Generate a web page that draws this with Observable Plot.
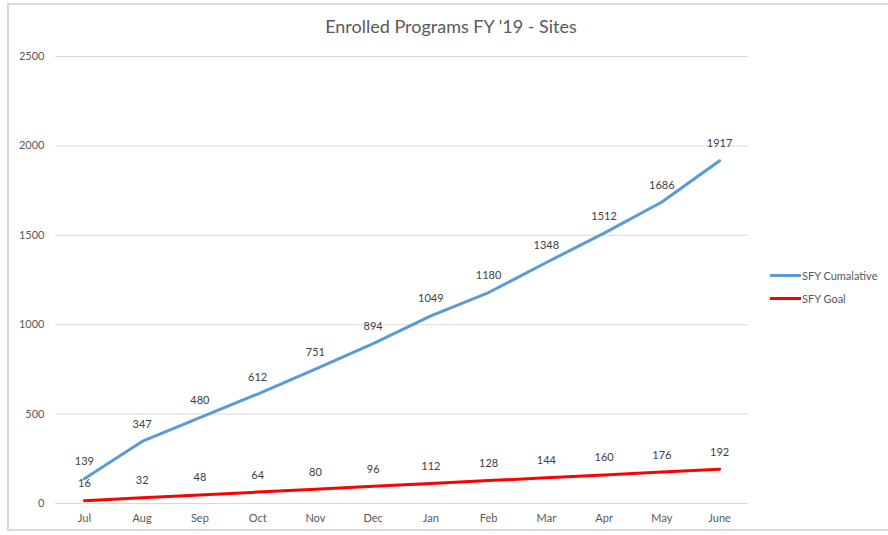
<!DOCTYPE html>
<html>
<head>
<meta charset="utf-8">
<script src="https://cdn.jsdelivr.net/npm/d3@7"></script>
<script src="https://cdn.jsdelivr.net/npm/@observablehq/plot@0.6"></script>
<style>
  html, body { margin: 0; padding: 0; background: #fff; }
  #wrap { position: relative; width: 888px; height: 535px; overflow: hidden; font-family: Lato, "Open Sans", sans-serif; }
  #frame { position: absolute; left: 7px; top: 3px; width: 900px; height: 528px; border: 2px solid #d9d9d9; box-sizing: border-box; }
  #title { position: absolute; left: 0; width: 902px; top: 15px; text-align: center; font-size: 18px; color: #595959; }
  .leg { position: absolute; left: 770px; font-size: 11px; color: #595959; display: flex; align-items: center; }
  .leg span.sw { display: inline-block; width: 31px; height: 3px; margin-right: 1px; }
  #chart { position: absolute; left: 0; top: 0; }
</style>
</head>
<body>
<div id="wrap">
  <div id="frame"></div>
  <div id="chart"></div>
  <div id="title">Enrolled Programs FY '19 - Sites</div>
  <div class="leg" style="top:269px"><span class="sw" style="background:#5B9BD5"></span>SFY Cumalative</div>
  <div class="leg" style="top:292px"><span class="sw" style="background:#FF0000"></span>SFY Goal</div>
</div>
<script>
const months = ["Jul","Aug","Sep","Oct","Nov","Dec","Jan","Feb","Mar","Apr","May","June"];
const cumulative = [139,347,480,612,751,894,1049,1180,1348,1512,1686,1917];
const goal = [16,32,48,64,80,96,112,128,144,160,176,192];
const yTicks = [0,500,1000,1500,2000,2500];

const cumData = months.map((m,i) => ({month: m, value: cumulative[i]}));
const goalData = months.map((m,i) => ({month: m, value: goal[i]}));

const chart = Plot.plot({
  width: 888,
  height: 535,
  marginLeft: 55,
  marginRight: 140,
  marginTop: 56,
  marginBottom: 32,
  style: {fontFamily: "Lato, 'Open Sans', sans-serif", fontSize: "11px", color: "#595959", background: "transparent"},
  x: {type: "point", domain: months, padding: 0.5, round: false, label: null},
  y: {domain: [0, 2500], ticks: yTicks, label: null},
  marks: [
    Plot.ruleY(yTicks, {stroke: "#d9d9d9", strokeWidth: 1}),
    Plot.axisY({ticks: yTicks, tickFormat: d => String(d), tickSize: 0, tickPadding: 11, fontSize: 11, fill: "#595959", label: null}),
    Plot.axisX({tickSize: 0, tickPadding: 11, fontSize: 11, fill: "#595959", label: null}),
    Plot.line(goalData, {x: "month", y: "value", stroke: "#FF0000", strokeWidth: 3}),
    Plot.line(cumData, {x: "month", y: "value", stroke: "#5B9BD5", strokeWidth: 3}),
    Plot.text(cumData, {x: "month", y: "value", text: d => String(d.value), dy: -17, fill: "#404040", fontSize: 11}),
    Plot.text(goalData, {x: "month", y: "value", text: d => String(d.value), dy: -17, fill: "#404040", fontSize: 11})
  ]
});
document.getElementById("chart").appendChild(chart);
</script>
</body>
</html>
